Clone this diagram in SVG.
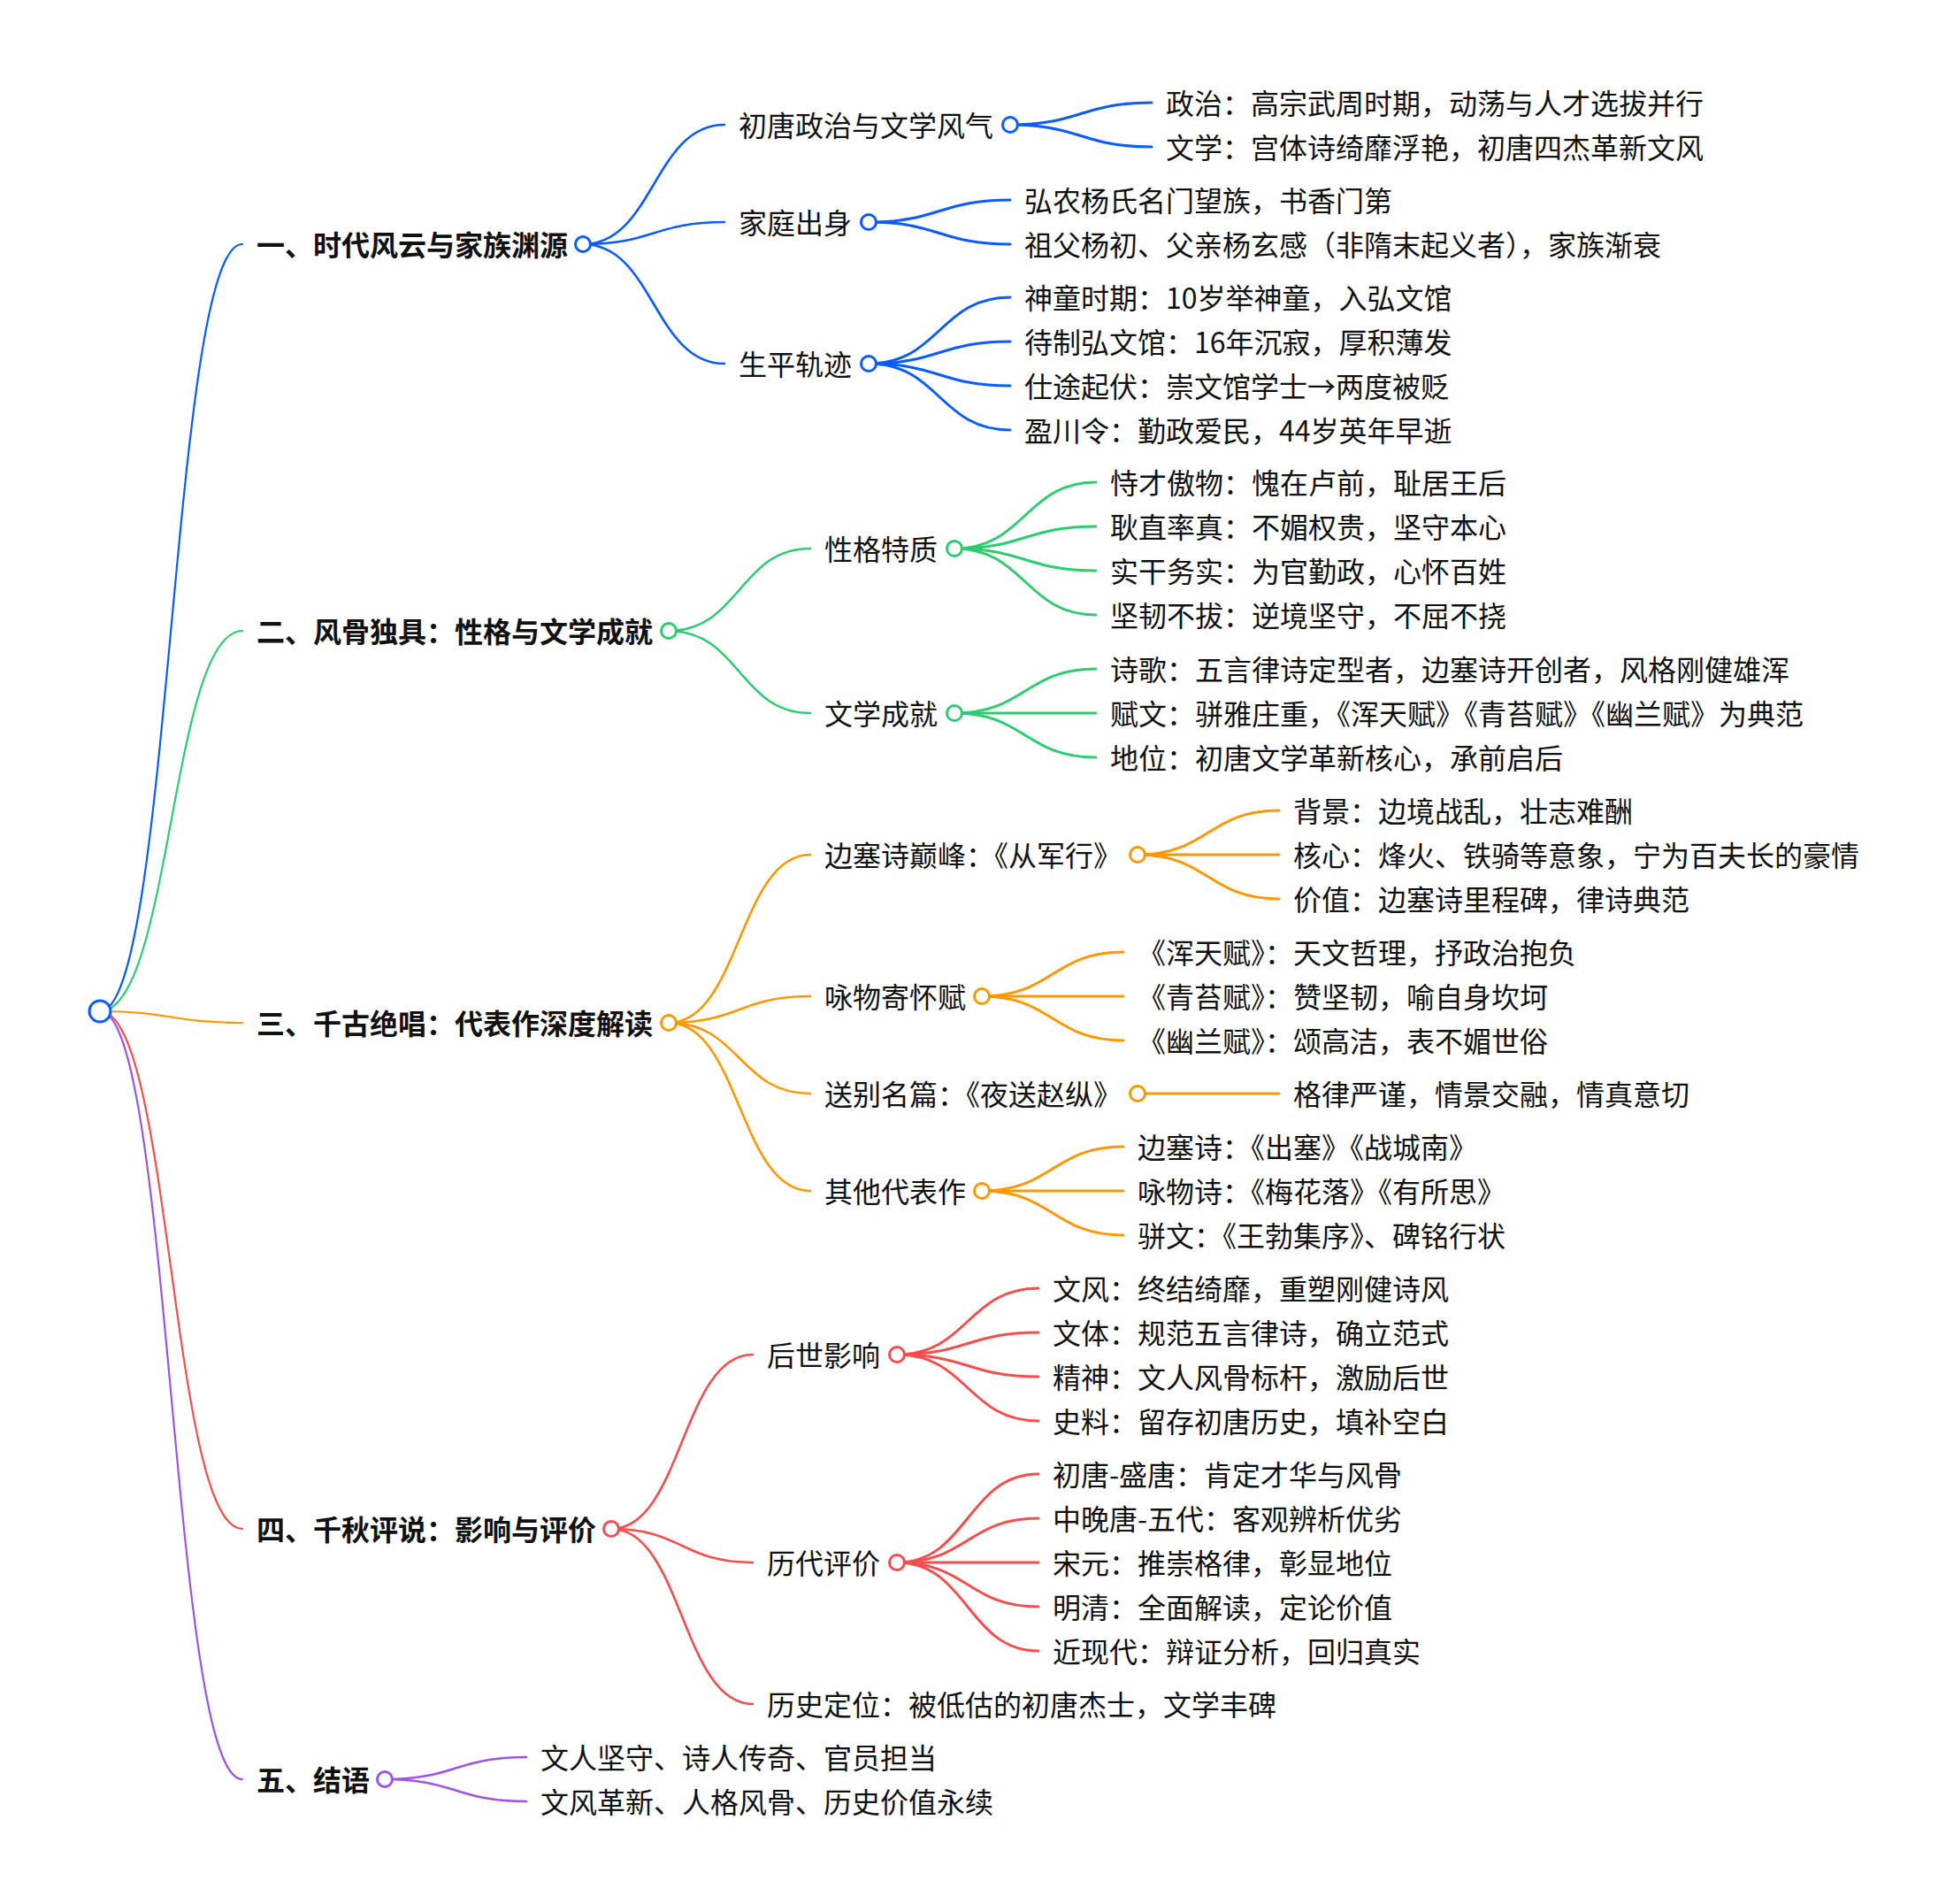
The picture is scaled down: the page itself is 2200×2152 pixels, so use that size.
<svg xmlns="http://www.w3.org/2000/svg" width="2200" height="2152" viewBox="0 0 2200 2152">
<style>
.t{font-family:"Noto Sans CJK SC","Noto Sans",sans-serif;font-size:32px;fill:#111}
.b{font-weight:700}
.l{fill:none;stroke-linecap:round}
.w0{stroke-width:2.2}
.w1{stroke-width:2.6}
.w2{stroke-width:3}
.blue{stroke:#0a5cff}
.green{stroke:#2ecc71}
.orange{stroke:#ff9800}
.red{stroke:#f44e4e}
.purple{stroke:#9b55e5}
.dot{fill:#fff;stroke-width:3}
</style>
<rect width="2200" height="2152" fill="#fff"/>
<g id="connectors">
<path class="l w0 blue" d="M113,1143C193.5,1143 193.5,276 274,276"/>
<path class="l w0 green" d="M113,1143C193.5,1143 193.5,713 274,713"/>
<path class="l w0 orange" d="M113,1143C193.5,1143 193.5,1156 274,1156"/>
<path class="l w0 red" d="M113,1143C193.5,1143 193.5,1728 274,1728"/>
<path class="l w0 purple" d="M113,1143C193.5,1143 193.5,2011 274,2011"/>
<path class="l w1 blue" d="M659,276C739,276 739,141 819,141"/>
<path class="l w1 blue" d="M659,276C739,276 739,251 819,251"/>
<path class="l w1 blue" d="M659,276C739,276 739,411 819,411"/>
<path class="l w2 blue" d="M1142,141C1222,141 1222,116 1302,116"/>
<path class="l w2 blue" d="M1142,141C1222,141 1222,166 1302,166"/>
<path class="l w2 blue" d="M982,251C1062,251 1062,226 1142,226"/>
<path class="l w2 blue" d="M982,251C1062,251 1062,276 1142,276"/>
<path class="l w2 blue" d="M982,411C1062,411 1062,336 1142,336"/>
<path class="l w2 blue" d="M982,411C1062,411 1062,386 1142,386"/>
<path class="l w2 blue" d="M982,411C1062,411 1062,436 1142,436"/>
<path class="l w2 blue" d="M982,411C1062,411 1062,486 1142,486"/>
<path class="l w1 green" d="M756,713C836,713 836,620 916,620"/>
<path class="l w1 green" d="M756,713C836,713 836,806 916,806"/>
<path class="l w2 green" d="M1079,620C1159,620 1159,545 1239,545"/>
<path class="l w2 green" d="M1079,620C1159,620 1159,595 1239,595"/>
<path class="l w2 green" d="M1079,620C1159,620 1159,645 1239,645"/>
<path class="l w2 green" d="M1079,620C1159,620 1159,695 1239,695"/>
<path class="l w2 green" d="M1079,806C1159,806 1159,756 1239,756"/>
<path class="l w2 green" d="M1079,806L1239,806"/>
<path class="l w2 green" d="M1079,806C1159,806 1159,856 1239,856"/>
<path class="l w1 orange" d="M756,1156C836,1156 836,966 916,966"/>
<path class="l w1 orange" d="M756,1156C836,1156 836,1126 916,1126"/>
<path class="l w1 orange" d="M756,1156C836,1156 836,1236 916,1236"/>
<path class="l w1 orange" d="M756,1156C836,1156 836,1346 916,1346"/>
<path class="l w2 orange" d="M1286,966C1366,966 1366,916 1446,916"/>
<path class="l w2 orange" d="M1286,966L1446,966"/>
<path class="l w2 orange" d="M1286,966C1366,966 1366,1016 1446,1016"/>
<path class="l w2 orange" d="M1110,1126C1190,1126 1190,1076 1270,1076"/>
<path class="l w2 orange" d="M1110,1126L1270,1126"/>
<path class="l w2 orange" d="M1110,1126C1190,1126 1190,1176 1270,1176"/>
<path class="l w2 orange" d="M1286,1236L1446,1236"/>
<path class="l w2 orange" d="M1110,1346C1190,1346 1190,1296 1270,1296"/>
<path class="l w2 orange" d="M1110,1346L1270,1346"/>
<path class="l w2 orange" d="M1110,1346C1190,1346 1190,1396 1270,1396"/>
<path class="l w1 red" d="M691,1728C771,1728 771,1531 851,1531"/>
<path class="l w1 red" d="M691,1728C771,1728 771,1766 851,1766"/>
<path class="l w1 red" d="M691,1728C771,1728 771,1926 851,1926"/>
<path class="l w2 red" d="M1014,1531C1094,1531 1094,1456 1174,1456"/>
<path class="l w2 red" d="M1014,1531C1094,1531 1094,1506 1174,1506"/>
<path class="l w2 red" d="M1014,1531C1094,1531 1094,1556 1174,1556"/>
<path class="l w2 red" d="M1014,1531C1094,1531 1094,1606 1174,1606"/>
<path class="l w2 red" d="M1014,1766C1094,1766 1094,1666 1174,1666"/>
<path class="l w2 red" d="M1014,1766C1094,1766 1094,1716 1174,1716"/>
<path class="l w2 red" d="M1014,1766L1174,1766"/>
<path class="l w2 red" d="M1014,1766C1094,1766 1094,1816 1174,1816"/>
<path class="l w2 red" d="M1014,1766C1094,1766 1094,1866 1174,1866"/>
<path class="l w1 purple" d="M435,2011C515,2011 515,1986 595,1986"/>
<path class="l w1 purple" d="M435,2011C515,2011 515,2036 595,2036"/>
</g>
<g id="root"><circle class="dot blue" cx="113" cy="1143" r="12"/></g>
<g id="n1"><text class="t b" x="290" y="289">一、时代风云与家族渊源</text><circle class="dot blue" cx="659" cy="276" r="8.5"/></g>
<g id="n1-1"><text class="t" x="835" y="154">初唐政治与文学风气</text><circle class="dot blue" cx="1142" cy="141" r="8.5"/></g>
<g id="n1-1-1"><text class="t" x="1318" y="129">政治：高宗武周时期，动荡与人才选拔并行</text></g>
<g id="n1-1-2"><text class="t" x="1318" y="179">文学：宫体诗绮靡浮艳，初唐四杰革新文风</text></g>
<g id="n1-2"><text class="t" x="835" y="264">家庭出身</text><circle class="dot blue" cx="982" cy="251" r="8.5"/></g>
<g id="n1-2-1"><text class="t" x="1158" y="239">弘农杨氏名门望族，书香门第</text></g>
<g id="n1-2-2"><text class="t" x="1158" y="289">祖父杨初、父亲杨玄感（非隋末起义者），家族渐衰</text></g>
<g id="n1-3"><text class="t" x="835" y="424">生平轨迹</text><circle class="dot blue" cx="982" cy="411" r="8.5"/></g>
<g id="n1-3-1"><text class="t" x="1158" y="349">神童时期：10岁举神童，入弘文馆</text></g>
<g id="n1-3-2"><text class="t" x="1158" y="399">待制弘文馆：16年沉寂，厚积薄发</text></g>
<g id="n1-3-3"><text class="t" x="1158" y="449">仕途起伏：崇文馆学士→两度被贬</text></g>
<g id="n1-3-4"><text class="t" x="1158" y="499">盈川令：勤政爱民，44岁英年早逝</text></g>
<g id="n2"><text class="t b" x="290" y="726">二、风骨独具：性格与文学成就</text><circle class="dot green" cx="756" cy="713" r="8.5"/></g>
<g id="n2-1"><text class="t" x="932" y="633">性格特质</text><circle class="dot green" cx="1079" cy="620" r="8.5"/></g>
<g id="n2-1-1"><text class="t" x="1255" y="558">恃才傲物：愧在卢前，耻居王后</text></g>
<g id="n2-1-2"><text class="t" x="1255" y="608">耿直率真：不媚权贵，坚守本心</text></g>
<g id="n2-1-3"><text class="t" x="1255" y="658">实干务实：为官勤政，心怀百姓</text></g>
<g id="n2-1-4"><text class="t" x="1255" y="708">坚韧不拔：逆境坚守，不屈不挠</text></g>
<g id="n2-2"><text class="t" x="932" y="819">文学成就</text><circle class="dot green" cx="1079" cy="806" r="8.5"/></g>
<g id="n2-2-1"><text class="t" x="1255" y="769">诗歌：五言律诗定型者，边塞诗开创者，风格刚健雄浑</text></g>
<g id="n2-2-2"><text class="t" x="1255" y="819">赋文：骈雅庄重，《浑天赋》《青苔赋》《幽兰赋》为典范</text></g>
<g id="n2-2-3"><text class="t" x="1255" y="869">地位：初唐文学革新核心，承前启后</text></g>
<g id="n3"><text class="t b" x="290" y="1169">三、千古绝唱：代表作深度解读</text><circle class="dot orange" cx="756" cy="1156" r="8.5"/></g>
<g id="n3-1"><text class="t" x="932" y="979">边塞诗巅峰：《从军行》</text><circle class="dot orange" cx="1286" cy="966" r="8.5"/></g>
<g id="n3-1-1"><text class="t" x="1462" y="929">背景：边境战乱，壮志难酬</text></g>
<g id="n3-1-2"><text class="t" x="1462" y="979">核心：烽火、铁骑等意象，宁为百夫长的豪情</text></g>
<g id="n3-1-3"><text class="t" x="1462" y="1029">价值：边塞诗里程碑，律诗典范</text></g>
<g id="n3-2"><text class="t" x="932" y="1139">咏物寄怀赋</text><circle class="dot orange" cx="1110" cy="1126" r="8.5"/></g>
<g id="n3-2-1"><text class="t" x="1286" y="1089">《浑天赋》：天文哲理，抒政治抱负</text></g>
<g id="n3-2-2"><text class="t" x="1286" y="1139">《青苔赋》：赞坚韧，喻自身坎坷</text></g>
<g id="n3-2-3"><text class="t" x="1286" y="1189">《幽兰赋》：颂高洁，表不媚世俗</text></g>
<g id="n3-3"><text class="t" x="932" y="1249">送别名篇：《夜送赵纵》</text><circle class="dot orange" cx="1286" cy="1236" r="8.5"/></g>
<g id="n3-3-1"><text class="t" x="1462" y="1249">格律严谨，情景交融，情真意切</text></g>
<g id="n3-4"><text class="t" x="932" y="1359">其他代表作</text><circle class="dot orange" cx="1110" cy="1346" r="8.5"/></g>
<g id="n3-4-1"><text class="t" x="1286" y="1309">边塞诗：《出塞》《战城南》</text></g>
<g id="n3-4-2"><text class="t" x="1286" y="1359">咏物诗：《梅花落》《有所思》</text></g>
<g id="n3-4-3"><text class="t" x="1286" y="1409">骈文：《王勃集序》、碑铭行状</text></g>
<g id="n4"><text class="t b" x="290" y="1741">四、千秋评说：影响与评价</text><circle class="dot red" cx="691" cy="1728" r="8.5"/></g>
<g id="n4-1"><text class="t" x="867" y="1544">后世影响</text><circle class="dot red" cx="1014" cy="1531" r="8.5"/></g>
<g id="n4-1-1"><text class="t" x="1190" y="1469">文风：终结绮靡，重塑刚健诗风</text></g>
<g id="n4-1-2"><text class="t" x="1190" y="1519">文体：规范五言律诗，确立范式</text></g>
<g id="n4-1-3"><text class="t" x="1190" y="1569">精神：文人风骨标杆，激励后世</text></g>
<g id="n4-1-4"><text class="t" x="1190" y="1619">史料：留存初唐历史，填补空白</text></g>
<g id="n4-2"><text class="t" x="867" y="1779">历代评价</text><circle class="dot red" cx="1014" cy="1766" r="8.5"/></g>
<g id="n4-2-1"><text class="t" x="1190" y="1679">初唐-盛唐：肯定才华与风骨</text></g>
<g id="n4-2-2"><text class="t" x="1190" y="1729">中晚唐-五代：客观辨析优劣</text></g>
<g id="n4-2-3"><text class="t" x="1190" y="1779">宋元：推崇格律，彰显地位</text></g>
<g id="n4-2-4"><text class="t" x="1190" y="1829">明清：全面解读，定论价值</text></g>
<g id="n4-2-5"><text class="t" x="1190" y="1879">近现代：辩证分析，回归真实</text></g>
<g id="n4-3"><text class="t" x="867" y="1939">历史定位：被低估的初唐杰士，文学丰碑</text></g>
<g id="n5"><text class="t b" x="290" y="2024">五、结语</text><circle class="dot purple" cx="435" cy="2011" r="8.5"/></g>
<g id="n5-1"><text class="t" x="611" y="1999">文人坚守、诗人传奇、官员担当</text></g>
<g id="n5-2"><text class="t" x="611" y="2049">文风革新、人格风骨、历史价值永续</text></g>
</svg>
